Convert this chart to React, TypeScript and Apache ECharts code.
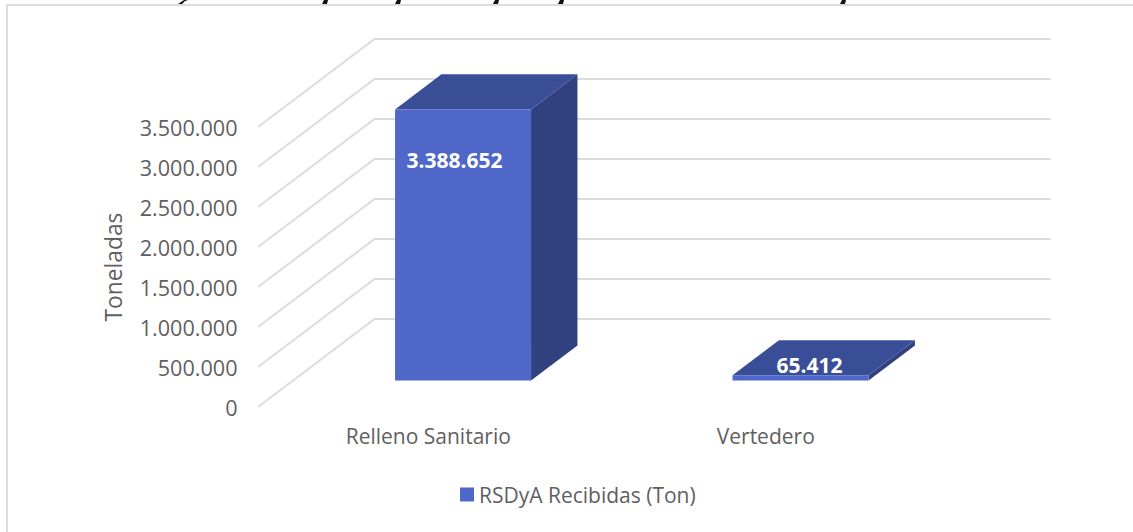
import React, { useEffect, useRef } from "react";
import * as echarts from "echarts";

const categories = ["Relleno Sanitario", "Vertedero"];
const seriesName = "RSDyA Recibidas (Ton)";
const received = [3388652, 65412];
const wallTicks = [0, 500000, 1000000, 1500000, 2000000, 2500000, 3000000, 3500000];
const axisTitle = "Toneladas";

const FONT = "'Open Sans', 'Noto Sans', sans-serif";
const TEXT = "#5F5F5F";
const FRONT = "#4E67C8";
const TOP = "#3A4E98";
const SIDE = "#314180";
const GRID_LINE = "#DCDCDC";
const DEPTH_X = 116;
const DEPTH_Y = 88;
const NEAR = 0.3;
const FAR = 0.7;
const BAR_RATIO = 136 / 337.5;
const LABEL_SHIFT = [
  { dx: -8.5, dy: 50 },
  { dx: 9, dy: -10.5 },
];

const fmt = (v: number) => String(v).replace(/\B(?=(\d{3})+(?!\d))/g, ".");
const titleTails = [
  [[178, 4], [182, 4], [185, 1], [188, 0], [184, 0], [181, 2]],
];
const stemMarks = [325, 398, 496, 561, 843];

export default function App() {
  const ref = useRef<HTMLDivElement>(null);
  useEffect(() => {
    document.body.style.margin = "0";
    const chart = echarts.init(ref.current!, undefined, { renderer: "svg" });
    chart.setOption({
      animation: false,
      backgroundColor: "#fff",
      textStyle: { fontFamily: FONT },
      grid: { left: 259.5, top: 127, width: 675, height: 280, containLabel: false },
      legend: {
        data: [{ name: seriesName, icon: "rect", itemStyle: { color: FRONT } }],
        left: 455,
        top: 479,
        itemWidth: 14,
        itemHeight: 14,
        textStyle: { color: TEXT, fontSize: 21, fontFamily: FONT },
        selectedMode: false,
      },
      xAxis: {
        type: "category",
        data: categories,
        axisLine: { show: false },
        axisTick: { show: false },
        axisLabel: { color: TEXT, fontSize: 21, fontFamily: FONT, margin: 18 },
      },
      yAxis: {
        type: "value",
        min: 0,
        max: 3500000,
        interval: 500000,
        name: axisTitle,
        nameLocation: "middle",
        nameGap: 135,
        nameTextStyle: { color: TEXT, fontSize: 22.8, fontFamily: FONT },
        axisLine: { show: false },
        axisTick: { show: false },
        splitLine: { show: false },
        axisLabel: { color: TEXT, fontSize: 21.6, fontFamily: FONT, margin: 22, formatter: (v: number) => fmt(v) },
      },
      graphic: [
        { type: "rect", shape: { x: 6, y: 4, width: 2, height: 528 }, style: { fill: GRID_LINE } },
        { type: "rect", shape: { x: 6, y: 4, width: 1127, height: 2 }, style: { fill: GRID_LINE } },
        ...titleTails.map((points) => ({ type: "polygon", shape: { points }, style: { fill: "#111" } })),
        ...stemMarks.map((x) => ({
          type: "polygon",
          shape: { points: [[x - 1, 0], [x + 3, 0], [x + 2, 4], [x - 3, 4]] },
          style: { fill: "#111" },
        })),
      ],
      series: [
        {
          type: "custom",
          name: "wall",
          silent: true,
          z: 1,
          coordinateSystem: "cartesian2d",
          encode: { x: 0, y: 1 },
          data: wallTicks.map((t) => [0, t]),
          renderItem: (params: any, api: any) => {
            const cs = params.coordSys;
            const y = api.coord([0, api.value(1)])[1];
            return {
              type: "polyline",
              shape: {
                points: [
                  [cs.x - 1.5, y],
                  [cs.x + DEPTH_X - 1, y - DEPTH_Y],
                  [cs.x + cs.width + DEPTH_X, y - DEPTH_Y],
                ],
              },
              style: { stroke: GRID_LINE, lineWidth: 2, fill: "none" },
            };
          },
        },
        {
          type: "custom",
          name: seriesName,
          silent: true,
          z: 2,
          coordinateSystem: "cartesian2d",
          itemStyle: { color: FRONT },
          encode: { x: 0, y: 1 },
          data: categories.map((_, i) => [i, received[i]]),
          renderItem: (params: any, api: any) => {
            const i = params.dataIndex;
            const cs = params.coordSys;
            const w = (cs.width / categories.length) * BAR_RATIO;
            const base = api.coord([api.value(0), 0]);
            const head = api.coord([api.value(0), api.value(1)]);
            const x0 = base[0] - w / 2 + DEPTH_X * NEAR;
            const x1 = x0 + w;
            const yb = base[1] - DEPTH_Y * NEAR;
            const yt = head[1] - DEPTH_Y * NEAR;
            const ddx = DEPTH_X * (FAR - NEAR);
            const ddy = DEPTH_Y * (FAR - NEAR);
            const shift = LABEL_SHIFT[i];
            return {
              type: "group",
              children: [
                {
                  type: "polygon",
                  shape: { points: [[x1, yt], [x1 + ddx, yt - ddy], [x1 + ddx, yb - ddy], [x1, yb]] },
                  style: { fill: SIDE },
                },
                {
                  type: "polygon",
                  shape: { points: [[x0, yt], [x0 + ddx, yt - ddy], [x1 + ddx, yt - ddy], [x1, yt]] },
                  style: { fill: TOP },
                },
                { type: "rect", shape: { x: x0, y: yt, width: w, height: yb - yt }, style: { fill: FRONT } },
                {
                  type: "text",
                  style: {
                    x: (x0 + x1) / 2 + shift.dx,
                    y: yt + shift.dy,
                    text: fmt(received[i]),
                    fill: "#fff",
                    font: `bold 21px ${FONT}`,
                    align: "center",
                    verticalAlign: "middle",
                  },
                },
              ],
            };
          },
        },
      ],
    });
    return () => chart.dispose();
  }, []);
  return <div ref={ref} style={{ position: "absolute", left: 0, top: 0, width: 1133, height: 532 }} />;
}
